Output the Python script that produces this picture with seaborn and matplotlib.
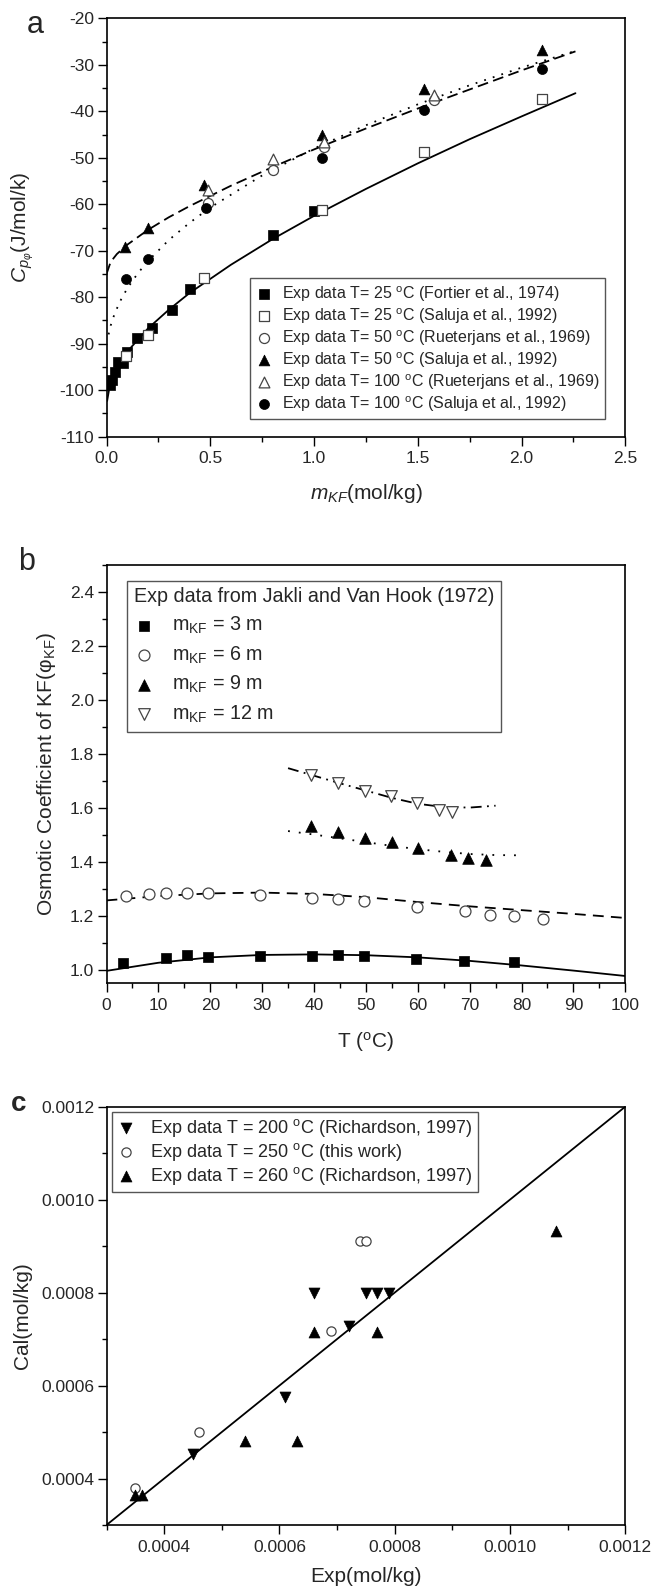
"""Three stacked panels for KF solutions: heat capacity, osmotic coefficient, parity plot."""
import matplotlib
matplotlib.use("Agg")
import matplotlib.pyplot as plt
from matplotlib.ticker import MultipleLocator, FormatStrFormatter
import seaborn as sns

# ---- (a) apparent molar heat capacity vs molality
a_fortier25_m = [0.016, 0.027, 0.040, 0.056, 0.080, 0.100, 0.149, 0.220, 0.316, 0.400, 0.800, 1.000]
a_fortier25_cp = [-98.9, -97.8, -96.0, -94.0, -94.2, -91.8, -88.7, -86.7, -82.8, -78.2, -66.5, -61.5]
a_saluja25_m = [0.095, 0.20, 0.47, 1.04, 1.53, 2.10]
a_saluja25_cp = [-92.7, -88.1, -75.8, -61.2, -48.8, -37.4]
a_rueter50_m = [0.49, 0.80, 1.05, 1.58]
a_rueter50_cp = [-59.7, -52.7, -47.6, -37.5]
a_saluja50_m = [0.09, 0.20, 0.47, 1.04, 1.53, 2.10]
a_saluja50_cp = [-69.2, -65.1, -55.9, -45.1, -35.2, -26.7]
a_rueter100_m = [0.49, 0.80, 1.05, 1.58]
a_rueter100_cp = [-56.9, -50.3, -46.5, -36.5]
a_saluja100_m = [0.095, 0.20, 0.48, 1.04, 1.53, 2.10]
a_saluja100_cp = [-76.0, -71.8, -60.8, -50.1, -39.7, -30.9]

a_fit25_m = [0.003, 0.02, 0.05, 0.1, 0.2, 0.3, 0.4, 0.6, 0.8, 1.0, 1.25, 1.5, 1.75, 2.0, 2.26]
a_fit25_cp = [-102.3, -97.9, -95.0, -91.7, -86.7, -82.7, -79.1, -73.0, -67.5, -62.5,
              -56.7, -51.2, -46.0, -41.1, -36.1]
a_fit50_m = [0.0, 0.02, 0.05, 0.1, 0.2, 0.3, 0.4, 0.6, 0.8, 1.0, 1.25, 1.5, 1.75, 2.0, 2.26]
a_fit50_cp = [-75.0, -72.4, -70.7, -68.7, -65.5, -62.8, -60.4, -56.0, -52.0, -48.2,
              -43.7, -39.4, -35.3, -31.2, -27.1]
a_fit100_m = [0.01, 0.02, 0.04, 0.07, 0.1, 0.15, 0.2, 0.3, 0.4, 0.5, 0.75, 1.0, 1.25, 1.5, 1.75, 2.0, 2.26]
a_fit100_cp = [-88.0, -86.1, -83.4, -80.5, -78.1, -74.9, -72.2, -67.7, -64.0, -60.7, -53.8,
               -48.0, -43.0, -38.5, -34.4, -30.6, -27.0]

# ---- (b) osmotic coefficient vs temperature
b_t3 = [3.2, 11.5, 15.5, 19.6, 29.6, 39.7, 44.7, 49.7, 59.6, 69.0, 78.5]
b_phi3 = [1.023, 1.041, 1.053, 1.047, 1.050, 1.050, 1.053, 1.050, 1.038, 1.030, 1.026]
b_t6 = [3.8, 8.1, 11.5, 15.5, 19.6, 29.6, 39.7, 44.7, 49.7, 59.8, 69.1, 73.9, 78.6, 84.1]
b_phi6 = [1.273, 1.279, 1.283, 1.283, 1.285, 1.276, 1.264, 1.260, 1.253, 1.232, 1.217,
          1.202, 1.199, 1.186]
b_t9 = [39.4, 44.7, 49.8, 55.0, 60.0, 66.5, 69.7, 73.1]
b_phi9 = [1.530, 1.510, 1.489, 1.473, 1.452, 1.423, 1.412, 1.406]
b_t12 = [39.5, 44.7, 49.9, 54.8, 59.8, 64.1, 66.6]
b_phi12 = [1.720, 1.692, 1.662, 1.642, 1.616, 1.591, 1.584]

b_fit3_t = [0, 10, 20, 30, 40, 50, 60, 70, 80, 90, 100]
b_fit3_phi = [0.995, 1.025, 1.045, 1.054, 1.056, 1.053, 1.045, 1.032, 1.015, 0.996, 0.976]
b_fit6_t = [0, 10, 20, 30, 40, 50, 60, 70, 80, 90, 100]
b_fit6_phi = [1.256, 1.272, 1.282, 1.285, 1.280, 1.268, 1.250, 1.234, 1.220, 1.206, 1.191]
b_fit9_t = [35, 40, 45, 50, 55, 60, 65, 70, 75, 80]
b_fit9_phi = [1.513, 1.500, 1.486, 1.472, 1.458, 1.446, 1.436, 1.428, 1.424, 1.423]
b_fit12_t = [35, 40, 45, 50, 55, 60, 65, 70, 75]
b_fit12_phi = [1.746, 1.718, 1.690, 1.663, 1.636, 1.614, 1.602, 1.600, 1.607]

# ---- (c) calculated vs experimental solubility
c_200_exp = [0.00045, 0.00061, 0.00066, 0.00072, 0.00075, 0.00077, 0.00079]
c_200_cal = [0.000453, 0.000575, 0.00080, 0.000728, 0.00080, 0.00080, 0.00080]
c_250_exp = [0.00035, 0.00046, 0.00069, 0.00074, 0.00075]
c_250_cal = [0.00038, 0.00050, 0.000718, 0.00091, 0.00091]
c_260_exp = [0.00035, 0.000362, 0.00054, 0.00063, 0.00066, 0.00077, 0.00108]
c_260_cal = [0.000365, 0.000365, 0.00048, 0.00048, 0.000716, 0.000716, 0.000933]
c_parity = [0.0003, 0.0012]

sns.set_style("ticks")
plt.rcParams['font.family'] = ['Liberation Sans', 'DejaVu Sans']
plt.rcParams['mathtext.fontset'] = 'custom'
plt.rcParams['mathtext.rm'] = 'Liberation Sans'
plt.rcParams['mathtext.it'] = 'Liberation Sans:italic'
plt.rcParams['mathtext.bf'] = 'Liberation Sans:bold'

DEG = r'$^{\mathregular{o}}$'
OPEN = dict(color='white', edgecolor='#444444', linewidth=0.9, zorder=3)
FILL = dict(color='black', edgecolor='black', linewidth=0.5, zorder=3)


def style_axis(axis, xlim, ylim, xmaj, xmin, ymaj, ymin, xfmt, yfmt):
    """Box frame, outward ticks on left/bottom only."""
    axis.set_xlim(*xlim)
    axis.set_ylim(*ylim)
    axis.xaxis.set_major_locator(MultipleLocator(xmaj))
    axis.xaxis.set_minor_locator(MultipleLocator(xmin))
    axis.yaxis.set_major_locator(MultipleLocator(ymaj))
    axis.yaxis.set_minor_locator(MultipleLocator(ymin))
    axis.xaxis.set_major_formatter(FormatStrFormatter(xfmt))
    axis.yaxis.set_major_formatter(FormatStrFormatter(yfmt))
    axis.tick_params(which='both', direction='out', top=False, right=False, width=1.0,
                     color='black')
    axis.tick_params(which='major', length=6.5, labelsize=12.5)
    axis.tick_params(which='minor', length=3.5)
    axis.tick_params(axis='x', pad=4)
    axis.tick_params(axis='y', pad=2.5)
    for spine in axis.spines.values():
        spine.set_visible(True)
        spine.set_linewidth(1.2)
        spine.set_color('black')


def add_line(axis, xvals, yvals, lstyle):
    sns.lineplot(x=xvals, y=yvals, color='black', linewidth=1.3, linestyle=lstyle,
                 sort=False, estimator=None, ax=axis)


fig = plt.figure(figsize=(6.55, 15.9), dpi=100)
LEFT, WIDTH, HEIGHT = 0.1626, 0.792, 0.2631
ax_a = fig.add_axes([LEFT, 0.72535, WIDTH, HEIGHT])
ax_b = fig.add_axes([LEFT, 0.38176, WIDTH, HEIGHT])
ax_c = fig.add_axes([LEFT, 0.04088, WIDTH, HEIGHT])

# ---- panel a
add_line(ax_a, a_fit25_m, a_fit25_cp, '-')
add_line(ax_a, a_fit50_m, a_fit50_cp, (0, (6, 3)))
add_line(ax_a, a_fit100_m, a_fit100_cp, (0, (1, 4)))
sns.scatterplot(x=a_fortier25_m, y=a_fortier25_cp, marker='s', s=44, ax=ax_a,
                label='Exp data T= 25 ' + DEG + 'C (Fortier et al., 1974)', **FILL)
sns.scatterplot(x=a_saluja25_m, y=a_saluja25_cp, marker='s', s=44, ax=ax_a,
                label='Exp data T= 25 ' + DEG + 'C (Saluja et al., 1992)', **OPEN)
sns.scatterplot(x=a_rueter50_m, y=a_rueter50_cp, marker='o', s=52, ax=ax_a,
                label='Exp data T= 50 ' + DEG + 'C (Rueterjans et al., 1969)', **OPEN)
sns.scatterplot(x=a_saluja50_m, y=a_saluja50_cp, marker='^', s=60, ax=ax_a,
                label='Exp data T= 50 ' + DEG + 'C (Saluja et al., 1992)', **FILL)
sns.scatterplot(x=a_rueter100_m, y=a_rueter100_cp, marker='^', s=60, ax=ax_a,
                label='Exp data T= 100 ' + DEG + 'C (Rueterjans et al., 1969)', **OPEN)
sns.scatterplot(x=a_saluja100_m, y=a_saluja100_cp, marker='o', s=52, ax=ax_a,
                label='Exp data T= 100 ' + DEG + 'C (Saluja et al., 1992)', **FILL)
style_axis(ax_a, (0, 2.5), (-110, -20), 0.5, 0.25, 10, 5, '%.1f', '%d')
ax_a.set_xlabel(r'$m_{KF}$(mol/kg)', fontsize=15, va='center')
ax_a.set_ylabel(r'$C_{p_{\varphi}}$(J/mol/k)', fontsize=15, va='center')
ax_a.xaxis.set_label_coords(0.5, -0.1353)
ax_a.yaxis.set_label_coords(-0.161, 0.5)
ax_a.legend(loc='lower right', bbox_to_anchor=(0.961, 0.042), borderaxespad=0,
            fontsize=11.5, labelspacing=0.15, handlelength=1.0, handletextpad=0.6,
            borderpad=0.35, frameon=True, fancybox=False, framealpha=1,
            edgecolor='#555555')

# ---- panel b
add_line(ax_b, b_fit3_t, b_fit3_phi, '-')
add_line(ax_b, b_fit6_t, b_fit6_phi, (0, (6, 4)))
add_line(ax_b, b_fit9_t, b_fit9_phi, (0, (1, 5)))
add_line(ax_b, b_fit12_t, b_fit12_phi, (0, (6, 3, 1, 3)))
sns.scatterplot(x=b_t3, y=b_phi3, marker='s', s=52, ax=ax_b,
                label=r'$\mathregular{m_{KF}}$ = 3 m', **FILL)
sns.scatterplot(x=b_t6, y=b_phi6, marker='o', s=62, ax=ax_b,
                label=r'$\mathregular{m_{KF}}$ = 6 m', **OPEN)
sns.scatterplot(x=b_t9, y=b_phi9, marker='^', s=70, ax=ax_b,
                label=r'$\mathregular{m_{KF}}$ = 9 m', **FILL)
sns.scatterplot(x=b_t12, y=b_phi12, marker='v', s=70, ax=ax_b,
                label=r'$\mathregular{m_{KF}}$ = 12 m', **OPEN)
style_axis(ax_b, (0, 100), (0.95, 2.5), 10, 5, 0.2, 0.1, '%d', '%.1f')
ax_b.set_xlabel('T (' + DEG + 'C)', fontsize=15, va='center')
ax_b.set_ylabel(r'Osmotic Coefficient of KF(φ$_{\mathregular{KF}}$)', fontsize=15, va='center')
ax_b.xaxis.set_label_coords(0.5, -0.141)
ax_b.yaxis.set_label_coords(-0.1166, 0.5)
ax_b.legend(loc='upper left', bbox_to_anchor=(0.040, 0.962), borderaxespad=0,
            title='Exp data from Jakli and Van Hook (1972)', title_fontsize=14.2,
            alignment='left', fontsize=14.2, labelspacing=0.42, handlelength=1.0,
            handletextpad=0.9, borderpad=0.35, frameon=True, fancybox=False,
            framealpha=1, edgecolor='#555555')

# ---- panel c
add_line(ax_c, c_parity, c_parity, '-')
sns.scatterplot(x=c_200_exp, y=c_200_cal, marker='v', s=62, ax=ax_c,
                label='Exp data T = 200 ' + DEG + 'C (Richardson, 1997)', **FILL)
sns.scatterplot(x=c_250_exp, y=c_250_cal, marker='o', s=44, ax=ax_c,
                label='Exp data T = 250 ' + DEG + 'C (this work)', **OPEN)
sns.scatterplot(x=c_260_exp, y=c_260_cal, marker='^', s=62, ax=ax_c,
                label='Exp data T = 260 ' + DEG + 'C (Richardson, 1997)', **FILL)
style_axis(ax_c, (0.0003, 0.0012), (0.0003, 0.0012), 0.0002, 0.0001, 0.0002, 0.0001,
           '%.4f', '%.4f')
ax_c.set_xlabel('Exp(mol/kg)', fontsize=15, va='center')
ax_c.set_ylabel('Cal(mol/kg)', fontsize=15, va='center')
ax_c.xaxis.set_label_coords(0.5, -0.124)
ax_c.yaxis.set_label_coords(-0.161, 0.5)
ax_c.legend(loc='upper left', bbox_to_anchor=(0.0106, 0.988), borderaxespad=0,
            fontsize=13, labelspacing=0.1, handlelength=1.0, handletextpad=0.8,
            borderpad=0.3, frameon=True, fancybox=False, framealpha=1,
            edgecolor='#555555')

# panel letters
fig.text(35 / 655, 1 - 25 / 1590, 'a', fontsize=22, ha='center', va='center')
fig.text(27 / 655, 1 - 562 / 1590, 'b', fontsize=22, ha='center', va='center')
fig.text(19 / 655, 1 - 1104 / 1590, 'c', fontsize=20, ha='center', va='center',
         fontweight='bold')

fig.savefig('out.png', dpi=100)
